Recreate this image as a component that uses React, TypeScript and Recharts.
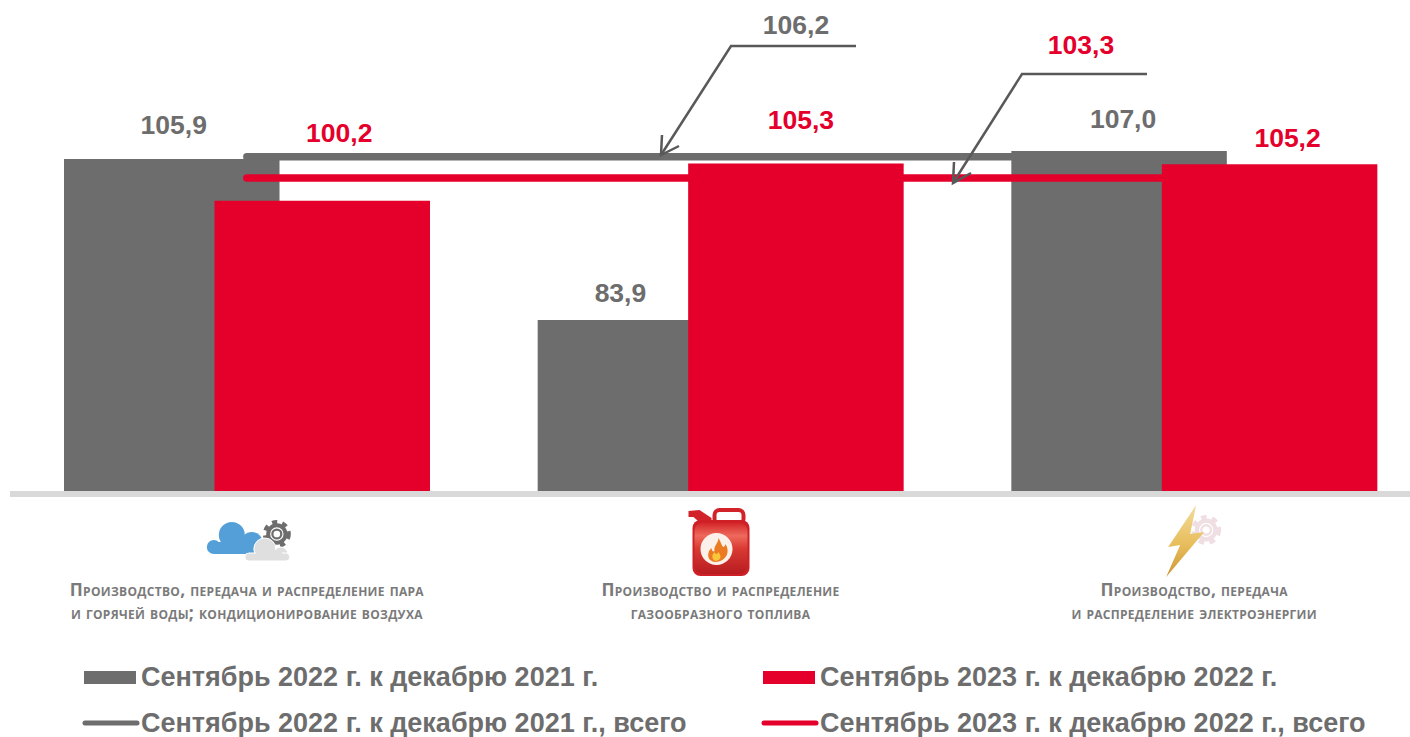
import React from 'react';
import {
  ComposedChart,
  Bar,
  Line,
  XAxis,
  YAxis,
  LabelList,
} from 'recharts';

const GRAY = '#6d6d6d';
const RED = '#e4002b';
const SANS = '"Liberation Sans", Arial, sans-serif';

// Index values
const categories = [
  ['Производство, передача и распределение пара', 'и горячей воды; кондиционирование воздуха'],
  ['Производство и распределение', 'газообразного топлива'],
  ['Производство, передача', 'и распределение электроэнергии'],
];
const sept2022 = [105.9, 83.9, 107.0];
const sept2023 = [100.2, 105.3, 105.2];
const sept2022Total = [106.2, 106.2, 106.2];
const sept2023Total = [103.3, 103.3, 103.3];

const seriesNames = [
  'Сентябрь 2022 г. к декабрю 2021 г.',
  'Сентябрь 2023 г. к декабрю 2022 г.',
  'Сентябрь 2022 г. к декабрю 2021 г., всего',
  'Сентябрь 2023 г. к декабрю 2022 г., всего',
];

const chartData = categories.map((lines, i) => ({
  name: lines.join(' '),
  sept2022: sept2022[i],
  sept2023: sept2023[i],
  sept2022Total: sept2022Total[i],
  sept2023Total: sept2023Total[i],
}));

// The value labels sit by hand in the original, so each one has its own nudge
const grayNudge = [[2, -25], [-25, -18], [4, -23]];
const redNudge = [[17, -59], [5, -34], [18, -17]];

const fmt = (v: number) => v.toFixed(1).replace('.', ',');

const makeValueLabel = (color: string, nudge: number[][]) => (props: any) => {
  const { x, y, width, value, index } = props;
  return (
    <text
      x={x + width / 2 + nudge[index][0]}
      y={y + nudge[index][1]}
      textAnchor="middle"
      fill={color}
      fontFamily={SANS}
      fontWeight={700}
      fontSize={26.5}
    >
      {fmt(value)}
    </text>
  );
};

const Gear = ({ cx, cy, r, color }: { cx: number; cy: number; r: number; color: string }) => (
  <g>
    <circle cx={cx} cy={cy} r={r * 0.84} fill="none" stroke={color} strokeWidth={r * 0.32} strokeDasharray={`${r * 0.36} ${r * 0.36}`} />
    <circle cx={cx} cy={cy} r={r * 0.62} fill="none" stroke={color} strokeWidth={r * 0.28} />
    <circle cx={cx} cy={cy} r={r * 0.32} fill="none" stroke={color} strokeWidth={r * 0.16} />
  </g>
);

// Icons use page y and x relative to the tick centre
const CloudIcon = () => (
  <g transform="translate(-247,0)">
    <g fill="#559fd9">
      <circle cx={214} cy={547} r={7} />
      <circle cx={232} cy={535} r={13} />
      <circle cx={252} cy={543} r={11} />
      <rect x={214} y={542} width={44} height={12} />
    </g>
    <Gear cx={277} cy={534} r={14} color={GRAY} />
    <g fill="#dfdfdf" stroke="#fff" strokeWidth={1}>
      <circle cx={265} cy={549} r={11} />
      <circle cx={281} cy={554} r={7} />
      <rect x={245} y={553} width={45} height={8} rx={4} />
    </g>
    <rect x={256} y={550} width={26} height={8} fill="#dfdfdf" />
  </g>
);

const CanIcon = () => (
  <g transform="translate(-721,0)">
    <defs>
      <linearGradient id="canBody" x1="0" y1="0" x2="0" y2="1">
        <stop offset="0" stopColor="#d4272a" />
        <stop offset="0.25" stopColor="#ee6a5c" />
        <stop offset="0.5" stopColor="#d93a33" />
        <stop offset="1" stopColor="#b81c20" />
      </linearGradient>
    </defs>
    <path d="M689 511 L700 510 L712 518 L712 524 L702 524 L694 517 L689 517 Z" fill="#d2222a" />
    <rect x={715} y={510} width={29} height={14} rx={5} fill="#fff" stroke="#d2222a" strokeWidth={4} />
    <rect x={693} y={520} width={57} height={56} rx={8} fill="#cf2027" />
    <rect x={695} y={523} width={53} height={51} rx={8} fill="url(#canBody)" />
    <circle cx={717} cy={549} r={16} fill="#fbf1ea" />
    <path d="M716 562 C706 561 708 551 712 548 C712 551 714 552 715 551 C714 546 719 543 719 538 C722 543 722 546 724 547 C726 546 726 544 726 544 C731 552 727 561 716 562 Z" fill="#ec7a22" />
    <path d="M716 561 C712 559 712 555 715 552 C716 555 718 554 719 552 C722 556 722 560 716 561 Z" fill="#f9c63b" />
  </g>
);

const BoltIcon = () => (
  <g transform="translate(-1195,0)">
    <defs>
      <linearGradient id="boltFill" x1="0" y1="0" x2="0" y2="1">
        <stop offset="0" stopColor="#f3dc9c" />
        <stop offset="0.55" stopColor="#e8bd5c" />
        <stop offset="1" stopColor="#cd9535" />
      </linearGradient>
    </defs>
    <Gear cx={1207} cy={530} r={15} color="#efdfe3" />
    <polygon
      points="1197,505 1169,547 1181,545 1167,577 1205,532 1191,534"
      fill="url(#boltFill)"
    />
  </g>
);

const icons = [CloudIcon, CanIcon, BoltIcon];

const CategoryTick = (props: any) => {
  const { x, index } = props;
  const Icon = icons[index];
  return (
    <g transform={`translate(${x},0)`}>
      <Icon />
      {categories[index].map((line, i) => (
        <text
          key={line}
          x={0}
          y={596 + i * 23}
          textAnchor="middle"
          fill="#7a7a7a"
          fontFamily='"Open Sans", sans-serif'
          fontWeight={700}
          fontSize={17.5}
          letterSpacing={0.3}
          style={{ fontVariant: 'small-caps' }}
        >
          {line}
        </text>
      ))}
    </g>
  );
};

const legendX = [83, 762];
const legendY = [677, 723];
const legendColors = [GRAY, RED, GRAY, RED];

const ChartLegend = () => (
  <g>
    {seriesNames.map((name, i) => {
      const x = legendX[i % 2];
      const y = legendY[i < 2 ? 0 : 1];
      return (
        <g key={name}>
          {i < 2 ? (
            <rect x={x + 1} y={y - 6} width={52} height={13} fill={legendColors[i]} />
          ) : (
            <line x1={x + 2} x2={x + 54} y1={y} y2={y} stroke={legendColors[i]} strokeWidth={5} strokeLinecap="round" />
          )}
          <text x={x + 58} y={y + 9} fill={GRAY} fontFamily={SANS} fontWeight={700} fontSize={27}>
            {name}
          </text>
        </g>
      );
    })}
  </g>
);

// Leader lines pointing from the totals to the two long lines
const Callout = ({ path, head, text, tx, ty, color }: any) => (
  <g>
    <path d={path} fill="none" stroke="#595959" strokeWidth={2.5} />
    <path d={head} fill="none" stroke="#595959" strokeWidth={2.5} />
    <text x={tx} y={ty} textAnchor="middle" fill={color} fontFamily={SANS} fontWeight={700} fontSize={26.5}>
      {text}
    </text>
  </g>
);

const App = () => (
  <div style={{ position: 'absolute', left: 0, top: 0, width: 1410, height: 737, overflow: 'hidden', background: '#fff' }}>
    <ComposedChart
      width={1431}
      height={737}
      data={chartData}
      margin={{ top: 0, right: 0, left: 10, bottom: 0 }}
      barSize={215.5}
      barGap={-65}
    >
      <YAxis hide domain={[60.12, 127.64]} allowDataOverflow />
      <Bar dataKey="sept2022" name={seriesNames[0]} fill={GRAY} isAnimationActive={false}>
        <LabelList dataKey="sept2022" content={makeValueLabel(GRAY, grayNudge)} />
      </Bar>
      <Bar dataKey="sept2023" name={seriesNames[1]} fill={RED} isAnimationActive={false}>
        <LabelList dataKey="sept2023" content={makeValueLabel(RED, redNudge)} />
      </Bar>
      <Line
        dataKey="sept2022Total"
        name={seriesNames[2]}
        stroke={GRAY}
        strokeWidth={7.5}
        strokeLinecap="round"
        dot={false}
        activeDot={false}
        isAnimationActive={false}
      />
      <Line
        dataKey="sept2023Total"
        name={seriesNames[3]}
        stroke={RED}
        strokeWidth={7.5}
        strokeLinecap="round"
        dot={false}
        activeDot={false}
        isAnimationActive={false}
      />
      <XAxis
        dataKey="name"
        interval={0}
        tickLine={false}
        axisLine={{ stroke: '#d9d9d9', strokeWidth: 6 }}
        tick={<CategoryTick />}
        height={243}
      />
    </ComposedChart>
    <svg width={1410} height={737} style={{ position: 'absolute', left: 0, top: 0, pointerEvents: 'none' }}>
      <ChartLegend />
      <Callout
        path="M856 46 H731 L661 155"
        head="M662 135 L661 155 L679 146"
        text={fmt(sept2022Total[0])}
        tx={796}
        ty={34}
        color={GRAY}
      />
      <Callout
        path="M1147 74 H1022 L953 183"
        head="M954 162 L953 183 L971 173"
        text={fmt(sept2023Total[0])}
        tx={1081}
        ty={54}
        color={RED}
      />
    </svg>
  </div>
);

export default App;
